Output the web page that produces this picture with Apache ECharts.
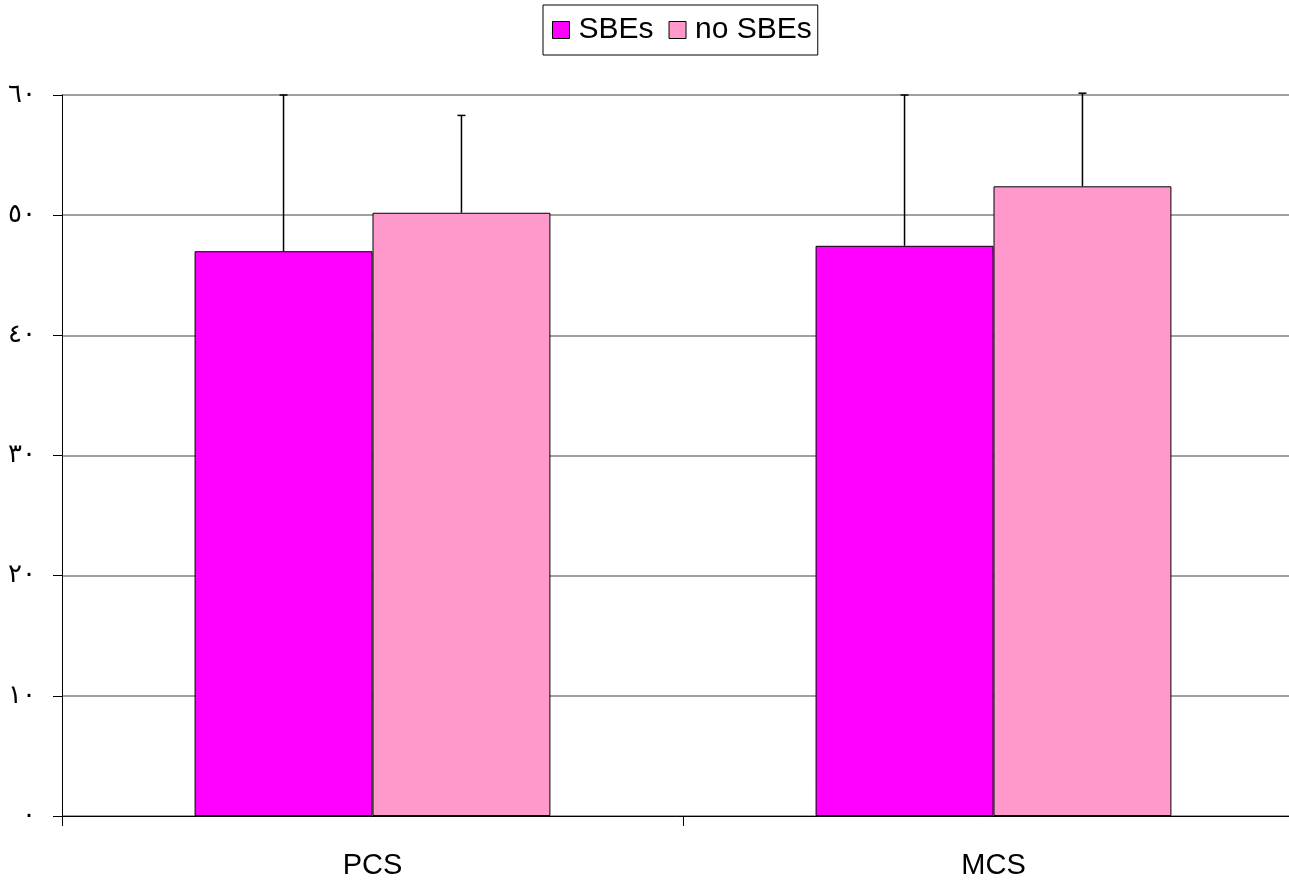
<!DOCTYPE html>
<html>
<head>
<meta charset="utf-8">
<script src="https://cdn.jsdelivr.net/npm/echarts@6/dist/echarts.min.js"></script>
<style>
  html, body { margin: 0; padding: 0; background: #fff; }
  #chart { width: 1289px; height: 882px; }
</style>
</head>
<body>
<div id="chart"></div>
<script>
// categories and values
const categories = ["PCS", "MCS"];
const seriesNames = ["SBEs", "no SBEs"];
const sbeMeans = [47.0, 47.45];
const noSbeMeans = [50.2, 52.4];
// upper error (plus one SD)
const sbeErrors = [13.0, 12.55];
const noSbeErrors = [8.1, 7.75];
const yTicks = [0, 10, 20, 30, 40, 50, 60];
const arabicDigits = ["٠", "١", "٢", "٣", "٤", "٥", "٦", "٧", "٨", "٩"];

const CAT_GAP = 0.427;

function toArabic(n) {
  return String(n).split("").map(d => arabicDigits[+d] || d).join("");
}

function errorData(means, errors) {
  return means.map((m, i) => [i, m, m + errors[i]]);
}

function makeRenderItem(side) {
  return function (params, api) {
    const idx = api.value(0);
    const low = api.coord([idx, api.value(1)]);
    const high = api.coord([idx, api.value(2)]);
    const catW = api.size([1, 0])[0];
    const barW = catW * (1 - CAT_GAP) / 2;
    const x = low[0] + side * barW / 2;
    const cap = 4;
    const style = { stroke: "#000", lineWidth: 1.5, fill: null };
    return {
      type: "group",
      children: [
        { type: "line", shape: { x1: x, y1: low[1], x2: x, y2: high[1] }, style: style },
        { type: "line", shape: { x1: x - cap, y1: high[1], x2: x + cap, y2: high[1] }, style: style }
      ]
    };
  };
}

const chart = echarts.init(document.getElementById("chart"));
chart.setOption({
  animation: false,
  backgroundColor: "#fff",
  legend: {
    data: seriesNames,
    left: 543,
    top: 5,
    padding: [10, 6, 10, 9],
    itemGap: 15,
    itemWidth: 17,
    itemHeight: 17,
    borderColor: "#000",
    borderWidth: 1,
    selectedMode: false,
    icon: "rect",
    itemStyle: { borderColor: "#000", borderWidth: 1 },
    textStyle: {
      fontFamily: "Liberation Sans",
      fontSize: 30,
      color: "#000",
      padding: [0, 0, 0, 4]
    }
  },
  grid: {
    left: 62,
    top: 95,
    width: 1242,
    bottom: 66,
    containLabel: false,
    outerBoundsMode: "none"
  },
  xAxis: {
    type: "category",
    data: categories,
    boundaryGap: true,
    axisLine: { lineStyle: { color: "#000", width: 1 } },
    axisTick: { show: true, length: 10, alignWithLabel: false, lineStyle: { color: "#000" } },
    axisLabel: {
      color: "#000",
      fontFamily: "Liberation Sans",
      fontSize: 29,
      margin: 35
    },
    splitLine: { show: false }
  },
  yAxis: {
    type: "value",
    min: 0,
    max: 60,
    interval: 10,
    axisLine: { show: true, lineStyle: { color: "#000", width: 1 } },
    axisTick: { show: true, length: 9, lineStyle: { color: "#000" } },
    axisLabel: {
      color: "#000",
      fontFamily: "DejaVu Sans",
      fontSize: 26,
      margin: 26,
      formatter: v => yTicks.indexOf(v) >= 0 ? toArabic(v) : ""
    },
    splitLine: { show: true, lineStyle: { color: "#808080", width: 1.5 } }
  },
  series: [
    {
      name: seriesNames[0],
      type: "bar",
      data: sbeMeans,
      barGap: "0%",
      barCategoryGap: (CAT_GAP * 100) + "%",
      itemStyle: { color: "#FF00FF", borderColor: "#000", borderWidth: 1 }
    },
    {
      name: seriesNames[1],
      type: "bar",
      data: noSbeMeans,
      barGap: "0%",
      barCategoryGap: (CAT_GAP * 100) + "%",
      itemStyle: { color: "#FF99CC", borderColor: "#000", borderWidth: 1 }
    },
    {
      type: "custom",
      name: "sbeErr",
      renderItem: makeRenderItem(-1),
      data: errorData(sbeMeans, sbeErrors),
      encode: { x: 0, y: [1, 2] },
      clip: false,
      z: 5
    },
    {
      type: "custom",
      name: "noSbeErr",
      renderItem: makeRenderItem(1),
      data: errorData(noSbeMeans, noSbeErrors),
      encode: { x: 0, y: [1, 2] },
      clip: false,
      z: 5
    }
  ]
});
</script>
</body>
</html>
